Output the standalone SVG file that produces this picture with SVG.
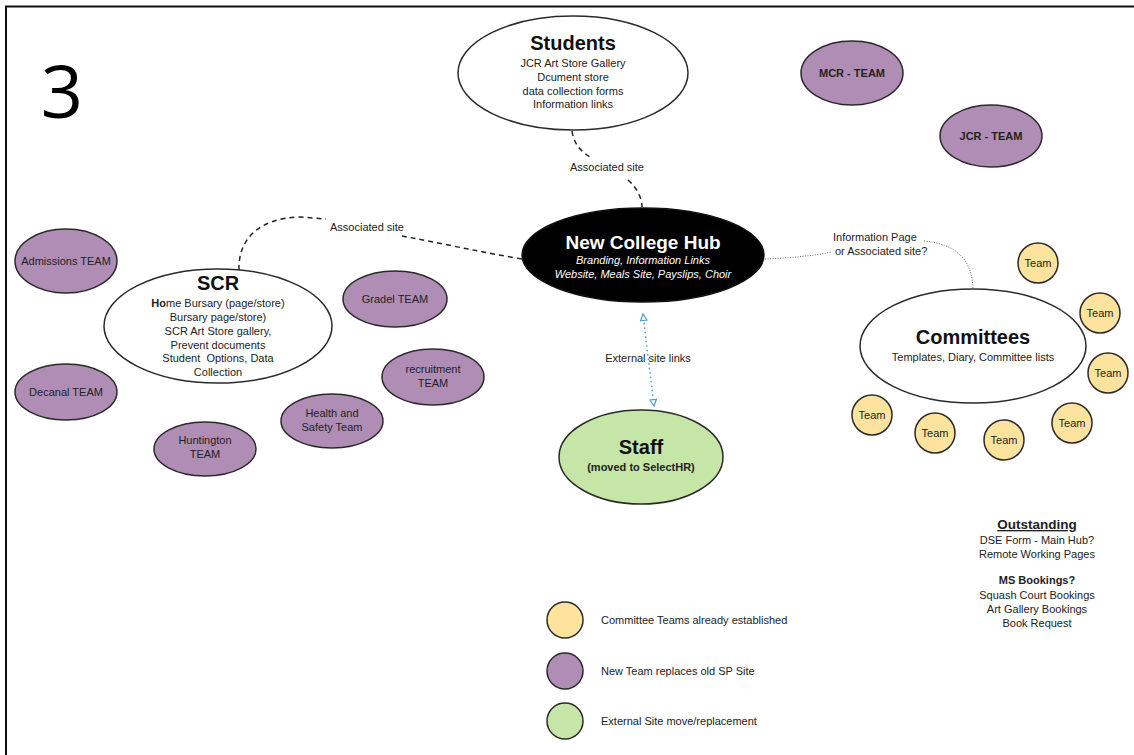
<svg xmlns="http://www.w3.org/2000/svg" width="1134" height="755" viewBox="0 0 1134 755">
<defs>
<style>
text{font-family:"Liberation Sans",Arial,sans-serif;fill:#222;text-anchor:middle}
.t{font-size:11px}
.h{font-size:20px;font-weight:bold;fill:#111}
.b{font-weight:bold}
.purple{fill:#b08db5;stroke:#2a2a2a;stroke-width:1.5}
.yellow{fill:#fde39d;stroke:#2a2a2a;stroke-width:1.5}
.green{fill:#c6e6a7;stroke:#2a2a2a;stroke-width:1.5}
.white{fill:#fff;stroke:#2a2a2a;stroke-width:1.5}
.dash{fill:none;stroke:#222;stroke-width:1.5;stroke-dasharray:5 4}
.dot{fill:none;stroke:#666;stroke-width:1;stroke-dasharray:1 1.5}
.blue{fill:none;stroke:#4a9fd5;stroke-width:1.5;stroke-dasharray:1.5 3}
</style>
<marker id="tri" viewBox="0 0 10 10" refX="9" refY="5" markerWidth="8" markerHeight="8" orient="auto-start-reverse" markerUnits="userSpaceOnUse">
<path d="M1,1 L9,5 L1,9 Z" fill="#fff" stroke="#4a9fd5" stroke-width="1.5"/>
</marker>
</defs>
<rect x="0" y="0" width="1134" height="755" fill="#fff"/>
<g id="frame">
<line x1="5" y1="6.5" x2="1134" y2="6.5" stroke="#111" stroke-width="2"/>
<line x1="6" y1="6" x2="6" y2="755" stroke="#111" stroke-width="2"/>
<text x="62" y="118" style="font-family:'Open Sans','Liberation Sans',sans-serif;font-size:74px;fill:#000">3</text>
</g>

<g id="connectors">
<path class="dash" d="M572,131 C574,145 582,152 590,157"/>
<path class="dash" d="M628,180 C637,188 642,198 642,207"/>
<text class="t" x="607" y="171">Associated site</text>
<path class="dash" d="M239,270 C238,240 258,218 300,217 L326,219"/>
<path class="dash" d="M402,236 C440,243 480,252 522,259"/>
<text class="t" x="367" y="231">Associated site</text>
<path class="dot" d="M765,259 C790,258 812,256 832,252"/>
<path class="dot" d="M924,241 C955,244 972,258 973,289"/>
<text class="t" x="833" y="241" style="text-anchor:start">Information Page</text>
<text class="t" x="835" y="255" style="text-anchor:start">or Associated site?</text>
<path class="blue" d="M643,314 L654,406" marker-start="url(#tri)" marker-end="url(#tri)"/>
<text class="t" x="648" y="362">External site links</text>
</g>

<g id="students">
<ellipse class="white" cx="573" cy="73" rx="115" ry="57"/>
<text class="h" x="573" y="50">Students</text>
<text class="t" x="573" y="67">JCR Art Store Gallery</text>
<text class="t" x="573" y="81">Dcument store</text>
<text class="t" x="573" y="95">data collection forms</text>
<text class="t" x="573" y="108">Information links</text>
</g>

<g id="hub">
<ellipse cx="643" cy="255" rx="121" ry="47" fill="#000" stroke="#111" stroke-width="1.5"/>
<text x="643" y="249" style="font-size:19px;font-weight:bold;fill:#fff">New College Hub</text>
<text class="t" x="643" y="264" style="font-style:italic;fill:#fff">Branding, Information Links</text>
<text class="t" x="643" y="278" style="font-style:italic;fill:#fff">Website, Meals Site, Payslips, Choir</text>
</g>

<g id="scr">
<ellipse class="white" cx="218" cy="326" rx="114" ry="57"/>
<text class="h" x="218" y="290">SCR</text>
<text class="t" x="218" y="307"><tspan class="b">Ho</tspan>me Bursary (page/store)</text>
<text class="t" x="218" y="321">Bursary page/store)</text>
<text class="t" x="218" y="335">SCR Art Store gallery,</text>
<text class="t" x="218" y="349">Prevent documents</text>
<text class="t" x="218" y="362">Student&#160; Options, Data</text>
<text class="t" x="218" y="376">Collection</text>
</g>

<g id="committees">
<ellipse class="white" cx="973" cy="346" rx="113" ry="57"/>
<text class="h" x="973" y="344">Committees</text>
<text class="t" x="973" y="361">Templates, Diary, Committee lists</text>
</g>

<g id="staff">
<ellipse class="green" cx="641" cy="457" rx="82" ry="47"/>
<text class="h" x="641" y="454">Staff</text>
<text class="t b" x="641" y="471">(moved to SelectHR)</text>
</g>

<g id="team-admissions"><ellipse class="purple" cx="66" cy="261" rx="51" ry="32"/><text class="t" x="66" y="265">Admissions TEAM</text></g>
<g id="team-decanal"><ellipse class="purple" cx="66" cy="392" rx="51" ry="28"/><text class="t" x="66" y="396">Decanal TEAM</text></g>
<g id="team-huntington"><ellipse class="purple" cx="205" cy="449" rx="51" ry="27"/><text class="t" x="205" y="444">Huntington</text><text class="t" x="205" y="458">TEAM</text></g>
<g id="team-health"><ellipse class="purple" cx="332" cy="421" rx="51" ry="27"/><text class="t" x="332" y="417">Health and</text><text class="t" x="332" y="431">Safety Team</text></g>
<g id="team-recruitment"><ellipse class="purple" cx="433" cy="377" rx="51" ry="28"/><text class="t" x="433" y="373">recruitment</text><text class="t" x="433" y="387">TEAM</text></g>
<g id="team-gradel"><ellipse class="purple" cx="395" cy="299" rx="52" ry="28"/><text class="t" x="395" y="303">Gradel TEAM</text></g>
<g id="team-mcr"><ellipse class="purple" cx="852" cy="73" rx="51" ry="32"/><text class="t b" x="852" y="77">MCR - TEAM</text></g>
<g id="team-jcr"><ellipse class="purple" cx="991" cy="136" rx="51" ry="31"/><text class="t b" x="991" y="140">JCR - TEAM</text></g>

<g id="cteam-1"><circle class="yellow" cx="1038" cy="263" r="20"/><text class="t" x="1038" y="267">Team</text></g>
<g id="cteam-2"><circle class="yellow" cx="1100" cy="313" r="20"/><text class="t" x="1100" y="317">Team</text></g>
<g id="cteam-3"><circle class="yellow" cx="1108" cy="373" r="20"/><text class="t" x="1108" y="377">Team</text></g>
<g id="cteam-4"><circle class="yellow" cx="1072" cy="423" r="20"/><text class="t" x="1072" y="427">Team</text></g>
<g id="cteam-5"><circle class="yellow" cx="1004" cy="440" r="20"/><text class="t" x="1004" y="444">Team</text></g>
<g id="cteam-6"><circle class="yellow" cx="935" cy="433" r="20"/><text class="t" x="935" y="437">Team</text></g>
<g id="cteam-7"><circle class="yellow" cx="872" cy="415" r="20"/><text class="t" x="872" y="419">Team</text></g>

<g id="outstanding">
<text x="1037" y="529" style="font-size:13.5px;font-weight:bold;text-decoration:underline">Outstanding</text>
<text class="t" x="1037" y="544">DSE Form - Main Hub?</text>
<text class="t" x="1037" y="558">Remote Working Pages</text>
<text class="t b" x="1037" y="584">MS Bookings?</text>
<text class="t" x="1037" y="599">Squash Court Bookings</text>
<text class="t" x="1037" y="613">Art Gallery Bookings</text>
<text class="t" x="1037" y="627">Book Request</text>
</g>

<g id="legend">
<circle class="yellow" cx="565" cy="620" r="18"/>
<text class="t" x="601" y="624" style="text-anchor:start">Committee Teams already established</text>
<circle class="purple" cx="565" cy="671" r="18"/>
<text class="t" x="601" y="675" style="text-anchor:start">New Team replaces old SP Site</text>
<circle class="green" cx="565" cy="721" r="18"/>
<text class="t" x="601" y="725" style="text-anchor:start">External Site move/replacement</text>
</g>
</svg>
